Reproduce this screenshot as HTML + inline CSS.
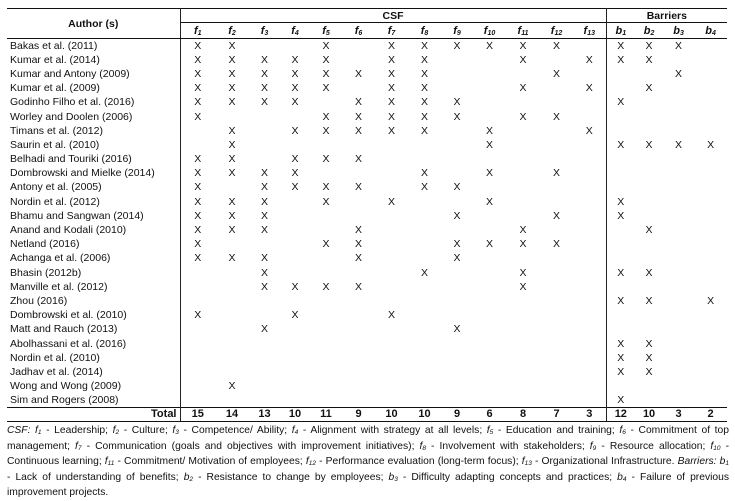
<!DOCTYPE html>
<html><head><meta charset="utf-8"><style>
body{margin:0;background:#fff;width:735px;height:500px;overflow:hidden;font-family:"Liberation Sans",sans-serif;color:#111}
table{position:absolute;left:7px;top:8px;border-collapse:collapse;table-layout:fixed;width:720px;font-size:10.5px}
td,th{padding:0;text-align:center;height:14.2px;line-height:12px;white-space:nowrap;overflow:hidden;box-sizing:border-box}
td.a{text-align:left;padding-left:3px;border-right:1px solid #222}
td.s,th.s{border-right:1px solid #222}
thead tr:first-child th{border-top:1.5px solid #111;height:14px}
thead tr:nth-child(2) th{height:16px;border-bottom:1px solid #111;font-style:italic;font-size:11px}
sub{font-size:7px;vertical-align:-1px;line-height:0}
tr.t td{border-top:1px solid #111;border-bottom:1px solid #111;font-weight:bold;font-size:11px;height:14px}
.cap{position:absolute;left:7px;top:423px;width:722px;font-size:10.3px;line-height:15.5px;text-align:justify;text-align-last:left}
.cap sub{font-size:6.5px}
</style></head><body>
<table>
<colgroup><col style="width:173px"><col style="width:35px"><col style="width:34px"><col style="width:31px"><col style="width:30px"><col style="width:32px"><col style="width:33px"><col style="width:33px"><col style="width:33px"><col style="width:32px"><col style="width:33px"><col style="width:34px"><col style="width:33px"><col style="width:33px"><col style="width:29px"><col style="width:28px"><col style="width:31px"><col style="width:33px"></colgroup>
<thead>
<tr><th rowspan="2" style="border-right:1px solid #222;border-bottom:1px solid #111">Author (s)</th><th colspan="13" class="s" style="border-bottom:1px solid #111">CSF</th><th colspan="4" style="border-bottom:1px solid #111">Barriers</th></tr>
<tr><th>f<sub>1</sub></th><th>f<sub>2</sub></th><th>f<sub>3</sub></th><th>f<sub>4</sub></th><th>f<sub>5</sub></th><th>f<sub>6</sub></th><th>f<sub>7</sub></th><th>f<sub>8</sub></th><th>f<sub>9</sub></th><th>f<sub>10</sub></th><th>f<sub>11</sub></th><th>f<sub>12</sub></th><th class="s">f<sub>13</sub></th><th>b<sub>1</sub></th><th>b<sub>2</sub></th><th>b<sub>3</sub></th><th>b<sub>4</sub></th></tr>
</thead>
<tbody>
<tr><td class="a">Bakas et al. (2011)</td><td>X</td><td>X</td><td></td><td></td><td>X</td><td></td><td>X</td><td>X</td><td>X</td><td>X</td><td>X</td><td>X</td><td class="s"></td><td>X</td><td>X</td><td>X</td><td></td></tr>
<tr><td class="a">Kumar et al. (2014)</td><td>X</td><td>X</td><td>X</td><td>X</td><td>X</td><td></td><td>X</td><td>X</td><td></td><td></td><td>X</td><td></td><td class="s">X</td><td>X</td><td>X</td><td></td><td></td></tr>
<tr><td class="a">Kumar and Antony (2009)</td><td>X</td><td>X</td><td>X</td><td>X</td><td>X</td><td>X</td><td>X</td><td>X</td><td></td><td></td><td></td><td>X</td><td class="s"></td><td></td><td></td><td>X</td><td></td></tr>
<tr><td class="a">Kumar et al. (2009)</td><td>X</td><td>X</td><td>X</td><td>X</td><td>X</td><td></td><td>X</td><td>X</td><td></td><td></td><td>X</td><td></td><td class="s">X</td><td></td><td>X</td><td></td><td></td></tr>
<tr><td class="a">Godinho Filho et al. (2016)</td><td>X</td><td>X</td><td>X</td><td>X</td><td></td><td>X</td><td>X</td><td>X</td><td>X</td><td></td><td></td><td></td><td class="s"></td><td>X</td><td></td><td></td><td></td></tr>
<tr><td class="a">Worley and Doolen (2006)</td><td>X</td><td></td><td></td><td></td><td>X</td><td>X</td><td>X</td><td>X</td><td>X</td><td></td><td>X</td><td>X</td><td class="s"></td><td></td><td></td><td></td><td></td></tr>
<tr><td class="a">Timans et al. (2012)</td><td></td><td>X</td><td></td><td>X</td><td>X</td><td>X</td><td>X</td><td>X</td><td></td><td>X</td><td></td><td></td><td class="s">X</td><td></td><td></td><td></td><td></td></tr>
<tr><td class="a">Saurin et al. (2010)</td><td></td><td>X</td><td></td><td></td><td></td><td></td><td></td><td></td><td></td><td>X</td><td></td><td></td><td class="s"></td><td>X</td><td>X</td><td>X</td><td>X</td></tr>
<tr><td class="a">Belhadi and Touriki (2016)</td><td>X</td><td>X</td><td></td><td>X</td><td>X</td><td>X</td><td></td><td></td><td></td><td></td><td></td><td></td><td class="s"></td><td></td><td></td><td></td><td></td></tr>
<tr><td class="a">Dombrowski and Mielke (2014)</td><td>X</td><td>X</td><td>X</td><td>X</td><td></td><td></td><td></td><td>X</td><td></td><td>X</td><td></td><td>X</td><td class="s"></td><td></td><td></td><td></td><td></td></tr>
<tr><td class="a">Antony et al. (2005)</td><td>X</td><td></td><td>X</td><td>X</td><td>X</td><td>X</td><td></td><td>X</td><td>X</td><td></td><td></td><td></td><td class="s"></td><td></td><td></td><td></td><td></td></tr>
<tr><td class="a">Nordin et al. (2012)</td><td>X</td><td>X</td><td>X</td><td></td><td>X</td><td></td><td>X</td><td></td><td></td><td>X</td><td></td><td></td><td class="s"></td><td>X</td><td></td><td></td><td></td></tr>
<tr><td class="a">Bhamu and Sangwan (2014)</td><td>X</td><td>X</td><td>X</td><td></td><td></td><td></td><td></td><td></td><td>X</td><td></td><td></td><td>X</td><td class="s"></td><td>X</td><td></td><td></td><td></td></tr>
<tr><td class="a">Anand and Kodali (2010)</td><td>X</td><td>X</td><td>X</td><td></td><td></td><td>X</td><td></td><td></td><td></td><td></td><td>X</td><td></td><td class="s"></td><td></td><td>X</td><td></td><td></td></tr>
<tr><td class="a">Netland (2016)</td><td>X</td><td></td><td></td><td></td><td>X</td><td>X</td><td></td><td></td><td>X</td><td>X</td><td>X</td><td>X</td><td class="s"></td><td></td><td></td><td></td><td></td></tr>
<tr><td class="a">Achanga et al. (2006)</td><td>X</td><td>X</td><td>X</td><td></td><td></td><td>X</td><td></td><td></td><td>X</td><td></td><td></td><td></td><td class="s"></td><td></td><td></td><td></td><td></td></tr>
<tr><td class="a">Bhasin (2012b)</td><td></td><td></td><td>X</td><td></td><td></td><td></td><td></td><td>X</td><td></td><td></td><td>X</td><td></td><td class="s"></td><td>X</td><td>X</td><td></td><td></td></tr>
<tr><td class="a">Manville et al. (2012)</td><td></td><td></td><td>X</td><td>X</td><td>X</td><td>X</td><td></td><td></td><td></td><td></td><td>X</td><td></td><td class="s"></td><td></td><td></td><td></td><td></td></tr>
<tr><td class="a">Zhou (2016)</td><td></td><td></td><td></td><td></td><td></td><td></td><td></td><td></td><td></td><td></td><td></td><td></td><td class="s"></td><td>X</td><td>X</td><td></td><td>X</td></tr>
<tr><td class="a">Dombrowski et al. (2010)</td><td>X</td><td></td><td></td><td>X</td><td></td><td></td><td>X</td><td></td><td></td><td></td><td></td><td></td><td class="s"></td><td></td><td></td><td></td><td></td></tr>
<tr><td class="a">Matt and Rauch (2013)</td><td></td><td></td><td>X</td><td></td><td></td><td></td><td></td><td></td><td>X</td><td></td><td></td><td></td><td class="s"></td><td></td><td></td><td></td><td></td></tr>
<tr><td class="a">Abolhassani et al. (2016)</td><td></td><td></td><td></td><td></td><td></td><td></td><td></td><td></td><td></td><td></td><td></td><td></td><td class="s"></td><td>X</td><td>X</td><td></td><td></td></tr>
<tr><td class="a">Nordin et al. (2010)</td><td></td><td></td><td></td><td></td><td></td><td></td><td></td><td></td><td></td><td></td><td></td><td></td><td class="s"></td><td>X</td><td>X</td><td></td><td></td></tr>
<tr><td class="a">Jadhav et al. (2014)</td><td></td><td></td><td></td><td></td><td></td><td></td><td></td><td></td><td></td><td></td><td></td><td></td><td class="s"></td><td>X</td><td>X</td><td></td><td></td></tr>
<tr><td class="a">Wong and Wong (2009)</td><td></td><td>X</td><td></td><td></td><td></td><td></td><td></td><td></td><td></td><td></td><td></td><td></td><td class="s"></td><td></td><td></td><td></td><td></td></tr>
<tr><td class="a">Sim and Rogers (2008)</td><td></td><td></td><td></td><td></td><td></td><td></td><td></td><td></td><td></td><td></td><td></td><td></td><td class="s"></td><td>X</td><td></td><td></td><td></td></tr>
<tr class="t"><td class="a" style="text-align:right;padding-right:3px">Total</td><td>15</td><td>14</td><td>13</td><td>10</td><td>11</td><td>9</td><td>10</td><td>10</td><td>9</td><td>6</td><td>8</td><td>7</td><td class="s">3</td><td>12</td><td>10</td><td>3</td><td>2</td></tr>
</tbody></table>
<div class="cap"><i>CSF: f<sub>1</sub></i> - Leadership; <i>f<sub>2</sub></i> - Culture; <i>f<sub>3</sub></i> - Competence/ Ability; <i>f<sub>4</sub></i> - Alignment with strategy at all levels; <i>f<sub>5</sub></i> - Education and training; <i>f<sub>6</sub></i> - Commitment of top management; <i>f<sub>7</sub></i> - Communication (goals and objectives with improvement initiatives); <i>f<sub>8</sub></i> - Involvement with stakeholders; <i>f<sub>9</sub></i> - Resource allocation; <i>f<sub>10</sub></i> - Continuous learning; <i>f<sub>11</sub></i> - Commitment/ Motivation of employees; <i>f<sub>12</sub></i> - Performance evaluation (long-term focus); <i>f<sub>13</sub></i> - Organizational Infrastructure. <i>Barriers: b<sub>1</sub></i> - Lack of understanding of benefits; <i>b<sub>2</sub></i> - Resistance to change by employees; <i>b<sub>3</sub></i> - Difficulty adapting concepts and practices; <i>b<sub>4</sub></i> - Failure of previous improvement projects.</div>
</body></html>
